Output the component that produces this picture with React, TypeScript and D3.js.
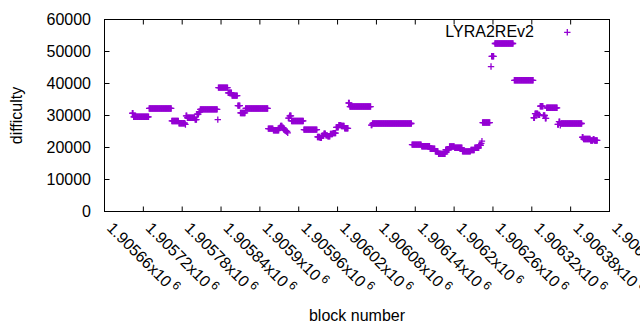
import { useEffect, useRef } from 'react'
import * as d3 from 'd3'

// difficulty held over runs of consecutive blocks (offsets from BLOCK_BASE)
const BLOCK_BASE = 1905660
const runStart = [43, 45, 69, 104, 115, 125, 126, 128, 140, 143, 146, 148, 175, 176, 191, 197, 206, 210, 218, 253, 261, 270, 272, 275, 277, 279, 281, 283, 284, 286, 289, 308, 329, 333, 336, 339, 342, 345, 349, 353, 358, 362, 366, 371, 377, 379, 412, 414, 475, 490, 503, 511, 516, 527, 533, 541, 553, 566, 572, 579, 582, 583, 584, 597, 598, 603, 633, 663, 665, 670, 673, 678, 681, 683, 700, 702, 704, 705, 738, 740, 751, 755, 757]
const runEnd = [44, 68, 103, 114, 124, 125, 127, 139, 142, 145, 147, 174, 175, 190, 196, 205, 209, 217, 252, 260, 269, 271, 274, 276, 278, 280, 282, 283, 285, 288, 307, 328, 332, 335, 338, 341, 344, 348, 352, 357, 361, 365, 370, 376, 378, 411, 413, 474, 489, 502, 510, 515, 526, 532, 540, 552, 565, 571, 578, 581, 582, 583, 595, 597, 601, 631, 662, 664, 669, 672, 677, 680, 682, 699, 701, 703, 704, 737, 739, 750, 754, 756, 761]
const runValue = [30700, 29600, 32200, 28300, 27600, 27200, 29900, 29300, 28700, 30400, 31100, 31900, 28700, 38700, 37100, 36200, 33100, 30800, 32200, 25900, 25400, 26100, 26700, 26200, 25600, 25300, 25000, 24600, 29200, 29900, 28300, 25600, 23300, 23000, 23700, 24300, 23800, 23500, 24200, 24500, 26300, 27000, 26700, 26000, 33900, 32800, 27000, 27500, 20900, 20400, 19600, 18800, 18000, 19300, 20300, 19900, 18800, 19200, 19900, 20700, 21300, 22000, 27800, 45300, 48500, 52500, 41000, 29300, 30600, 30200, 32900, 30000, 29100, 32400, 27200, 28100, 26900, 27500, 23200, 22650, 22200, 22600, 22200]

const xTickValues = [1905660, 1905720, 1905780, 1905840, 1905900, 1905960, 1906020, 1906080, 1906140, 1906200, 1906260, 1906320, 1906380, 1906440]
const yTickValues = [0, 10000, 20000, 30000, 40000, 50000, 60000]

const seriesName = 'LYRA2REv2'
const color = '#9400d3'
const font = '"Liberation Sans", Arial, sans-serif'

interface Pt { block: number; difficulty: number }

export default function App() {
  const svgRef = useRef<SVGSVGElement>(null)

  useEffect(() => {
    if (!svgRef.current) return
    const width = 640
    const height = 330
    const svg = d3.select(svgRef.current)
    svg.selectAll('*').remove()
    svg.attr('width', width).attr('height', height)

    const x = d3.scaleLinear().domain([xTickValues[0], xTickValues[xTickValues.length - 1]]).range([104.5, 609.5])
    const y = d3.scaleLinear().domain([0, 60000]).range([211.5, 19.5])
    const [x0, x1] = x.range()
    const [y0, y1] = y.range()

    const data: Pt[] = []
    runStart.forEach((s, i) => {
      for (let b = s; b <= runEnd[i]; b++) data.push({ block: BLOCK_BASE + b, difficulty: runValue[i] })
    })

    const plus = (cx: number, cy: number, r = 3.2) => `M${cx - r},${cy}h${2 * r}M${cx},${cy - r}v${2 * r}`

    // points
    svg.append('g').selectAll('path').data(data).enter().append('path')
      .attr('d', d => plus(x(d.block), y(d.difficulty)))
      .attr('stroke', color).attr('stroke-width', 1.3).attr('fill', 'none')

    // frame + inward ticks on all sides
    const tk = 5
    const axes = svg.append('g').attr('stroke', '#000').attr('stroke-width', 1).attr('fill', 'none')
    yTickValues.forEach(v => {
      axes.append('line').attr('x1', x0).attr('x2', x0 + tk).attr('y1', y(v)).attr('y2', y(v))
      axes.append('line').attr('x1', x1).attr('x2', x1 - tk).attr('y1', y(v)).attr('y2', y(v))
    })
    xTickValues.forEach(v => {
      axes.append('line').attr('x1', x(v)).attr('x2', x(v)).attr('y1', y0).attr('y2', y0 - tk)
      axes.append('line').attr('x1', x(v)).attr('x2', x(v)).attr('y1', y1).attr('y2', y1 + tk)
    })
    axes.append('rect').attr('x', x0).attr('y', y1).attr('width', x1 - x0).attr('height', y0 - y1)

    const txt = svg.append('g').attr('font-family', font).attr('font-size', 16).attr('fill', '#000')

    // y tick labels
    yTickValues.forEach(v => {
      txt.append('text').attr('x', 91).attr('y', y(v)).attr('dy', '0.35em').attr('text-anchor', 'end').text(String(v))
    })

    // x tick labels, rotated
    xTickValues.forEach(v => {
      const t = txt.append('text').attr('transform', `translate(${x(v) + 1.5},229) rotate(45)`).attr('text-anchor', 'start')
      t.append('tspan').text(`${(v / 1e6).toFixed(5).replace(/0+$/, '')}x10`)
      t.append('tspan').attr('font-size', 12).attr('dx', 3).attr('dy', -6).text('6')
    })

    // axis titles
    txt.append('text').attr('transform', `translate(22,${(y0 + y1) / 2}) rotate(-90)`).attr('text-anchor', 'middle').text('difficulty')
    txt.append('text').attr('x', (x0 + x1) / 2).attr('y', 321).attr('text-anchor', 'middle').text('block number')

    // legend
    txt.append('text').attr('x', 534).attr('y', 37).attr('text-anchor', 'end').text(seriesName)
    svg.append('path').attr('d', plus(567.3, 32.3)).attr('stroke', color).attr('stroke-width', 1.3).attr('fill', 'none')
  }, [])

  return (
    <div style={{ position: 'absolute', left: 0, top: 0, width: 640, height: 330, background: '#fff' }}>
      <svg ref={svgRef} style={{ display: 'block' }} />
    </div>
  )
}
